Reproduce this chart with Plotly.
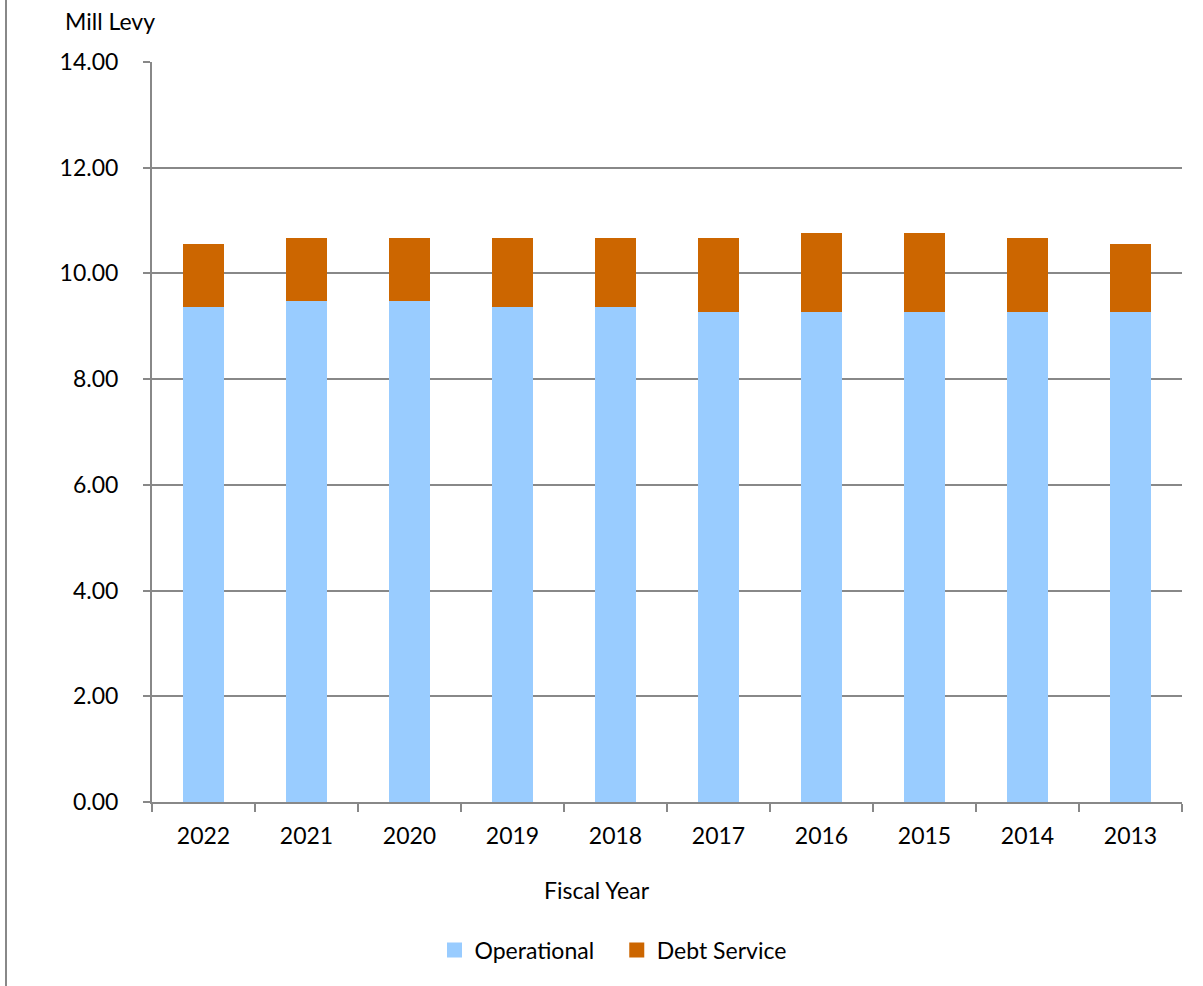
import plotly.graph_objects as go

# Mill levy by fiscal year
years = ["2022", "2021", "2020", "2019", "2018", "2017", "2016", "2015", "2014", "2013"]
operational = [9.37, 9.47, 9.47, 9.37, 9.37, 9.27, 9.27, 9.27, 9.27, 9.27]
debt_service = [1.19, 1.20, 1.20, 1.30, 1.30, 1.40, 1.50, 1.50, 1.40, 1.29]

y_ticks = [0, 2, 4, 6, 8, 10, 12, 14]
y_tick_text = [f"{v:.2f}" for v in y_ticks]

FONT = "Lato, 'Noto Sans', sans-serif"
GRID = "#888888"
OP_COLOR = "#99CCFF"
DEBT_COLOR = "#CC6600"
FS = 23

fig = go.Figure()
fig.add_trace(go.Bar(x=years, y=operational, name="Operational", showlegend=False,
                     marker=dict(color=OP_COLOR, line=dict(width=0))))
fig.add_trace(go.Bar(x=years, y=debt_service, name="Debt Service", showlegend=False,
                     marker=dict(color=DEBT_COLOR, line=dict(width=0))))
# legend entries with square swatches
for name, color in [("Operational\u00a0\u00a0\u00a0", OP_COLOR), ("Debt Service", DEBT_COLOR)]:
    fig.add_trace(go.Scatter(x=[None], y=[None], mode="markers", name=name,
                             marker=dict(symbol="square", size=15, color=color)))

W, H = 1203, 986
L, R, T, B = 152, 21, 62, 184
pw, ph = W - L - R, H - T - B

def px_x(p):
    return (p - L) / pw

def px_y(p):
    return (H - B - p) / ph

fig.update_layout(
    width=W, height=H,
    margin=dict(l=L, r=R, t=T, b=B),
    barmode="stack",
    bargap=0.6,
    paper_bgcolor="white",
    plot_bgcolor="white",
    font=dict(family=FONT, size=FS, color="black"),
    showlegend=True,
    legend=dict(orientation="h", xanchor="center", yanchor="middle",
                x=px_x(613), y=px_y(950), font=dict(size=FS),
                itemwidth=30, traceorder="normal", bgcolor="rgba(0,0,0,0)"),
    xaxis=dict(
        showline=True, linecolor=GRID, linewidth=2,
        ticks="outside", ticklen=8, tickcolor=GRID, tickwidth=2,
        tickson="boundaries",
        showgrid=False, tickfont=dict(size=FS),
        ticklabelstandoff=12,
    ),
    yaxis=dict(
        range=[0, 14], tickvals=y_ticks, ticktext=y_tick_text,
        showline=True, linecolor=GRID, linewidth=2,
        ticks="outside", ticklen=7, tickcolor=GRID, tickwidth=2,
        showgrid=True, gridcolor=GRID, gridwidth=1.5,
        zeroline=False, tickfont=dict(size=FS),
        ticklabelstandoff=20,
    ),
    annotations=[
        dict(text="Mill Levy", xref="paper", yref="paper",
             x=px_x(63), y=px_y(21), xanchor="left", yanchor="middle",
             showarrow=False, font=dict(size=FS)),
        dict(text="Fiscal Year", xref="paper", yref="paper",
             x=px_x(597), y=px_y(890), xanchor="center", yanchor="middle",
             showarrow=False, font=dict(size=FS)),
    ],
    shapes=[
        dict(type="line", xref="paper", yref="paper",
             x0=px_x(6), x1=px_x(6), y0=px_y(0), y1=px_y(H),
             line=dict(color=GRID, width=2)),
    ],
)

fig.write_html("out.html")
